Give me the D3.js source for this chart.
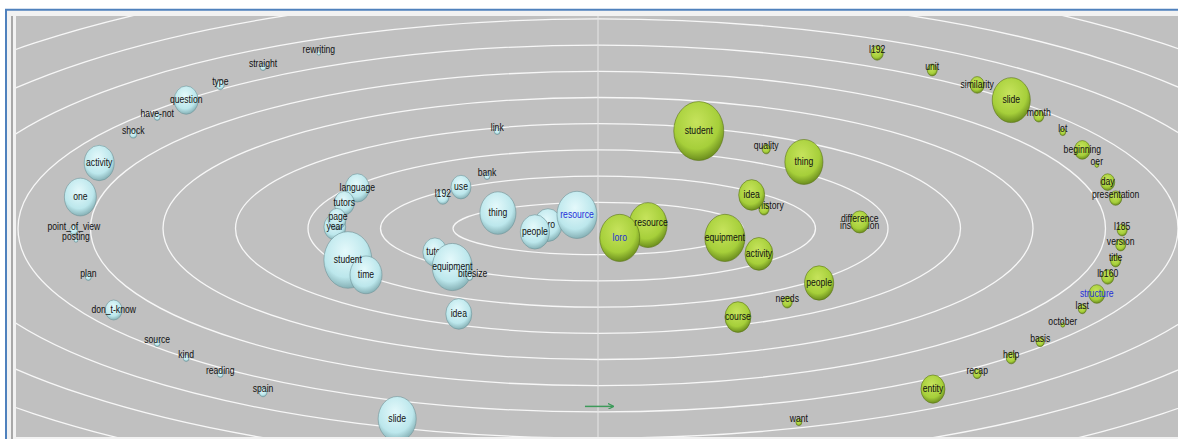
<!DOCTYPE html>
<html>
<head>
<meta charset="utf-8">
<script src="https://cdn.jsdelivr.net/npm/d3@7"></script>
<style>
body { margin: 0; background: #fff; }
text { font-family: "Liberation Sans", Arial, sans-serif; }
</style>
</head>
<body>
<div id="chart-area"></div>
<script>
// left cluster (light blue), drawn in this order (back to front)
var leftTerms  = ["rewriting","straight","type","question","have-not","shock","activity","one","point_of_view","posting","plan","don_t-know","source","kind","reading","spain","link","bank","use","l192","language","tutors","year","page","student","time","tutor","equipment","bitesize","idea","slide","thing","loro","people","resource"];
var leftX      = [-3.85,-4.62,-5.21,-5.68,-6.08,-6.41,-6.88,-7.14,-7.23,-7.20,-7.03,-6.68,-6.08,-5.68,-5.21,-4.62,-1.39,-1.53,-1.89,-2.14,-3.32,-3.50,-3.63,-3.60,-3.45,-3.20,-2.25,-2.01,-1.77,-1.92,-2.77,-1.38,-0.69,-0.87,-0.29];
var leftY      = [6.70,6.16,5.48,4.90,4.26,3.61,2.50,1.20,-0.06,-0.44,-1.85,-3.11,-4.37,-4.94,-5.55,-6.24,3.72,2.00,1.58,1.20,1.55,0.97,0.06,0.36,-1.20,-1.77,-0.90,-1.47,-1.85,-3.26,-7.27,0.59,0.13,-0.13,0.52];
var leftWeight = [0.6,1.4,2.6,23,1.4,2,36,41,2.6,0.6,1.4,11.5,1.4,1.4,1.4,2.6,1.4,1.4,16,6,23,16,19,13,92,41,23,64,1.4,27,58,52,31,34,64];

// right cluster (green)
var rightTerms  = ["l192","unit","similarity","slide","month","lot","beginning","oer","day","presentation","l185","version","title","lb160","structure","last","october","basis","help","recap","entity","want","student","quality","thing","history","idea","instruction","difference","resource","loro","equipment","activity","people","needs","course"];
var rightX      = [3.85,4.61,5.23,5.70,6.08,6.41,6.68,6.88,7.03,7.14,7.23,7.21,7.14,7.03,6.88,6.68,6.41,6.10,5.70,5.23,4.62,2.77,1.39,2.32,2.84,2.29,2.12,3.61,3.61,0.69,0.30,1.75,2.22,3.05,2.61,1.93];
var rightY      = [6.70,6.05,5.48,4.90,4.29,3.68,3.00,2.42,1.77,1.16,-0.06,-0.63,-1.24,-1.85,-2.50,-3.07,-3.68,-4.33,-4.94,-5.55,-6.13,-7.39,3.72,3.03,2.54,0.74,1.28,0.17,0.25,0.13,-0.36,-0.36,-0.97,-2.08,-2.81,-3.38];
var rightWeight = [6,4,8,58,4,1.4,10,0.6,8,6,4,4,4,6,10,2.6,0.6,2.6,4,2.6,23,1.4,100,2.6,58,4,27,2,14,58,64,64,31,34,4,27];

// terms whose label is shown in blue
var leftBlue = ["resource"];
var rightBlue = ["loro", "structure"];
// labels that sit behind later bubbles
var leftHidden = ["tutor", "loro"];
var rightHidden = ["history", "instruction"];

var ringCount = 14;

var width = 1178, height = 439;
var cx = 598, cy = 228.5;

var svg = d3.select("#chart-area")
	.append("svg")
		.attr("width", width)
		.attr("height", height);

var defs = svg.append("defs");

function sphere(id, c0, c1, c2) {
	var g = defs.append("radialGradient")
		.attr("id", id)
		.attr("cx", "45%").attr("cy", "35%").attr("r", "65%");
	g.append("stop").attr("offset", "0%").attr("stop-color", c0);
	g.append("stop").attr("offset", "70%").attr("stop-color", c1);
	g.append("stop").attr("offset", "100%").attr("stop-color", c2);
}
sphere("blueBall", "#e4f9fb", "#bce7ec", "#86b1b6");
sphere("greenBall", "#c6e35c", "#a6cf3a", "#6c8e1e");

defs.append("clipPath").attr("id", "plotClip")
	.append("rect")
		.attr("x", 16).attr("y", 16)
		.attr("width", width - 16).attr("height", 437 - 16);

defs.append("marker")
	.attr("id", "arrow")
	.attr("viewBox", "0 0 10 10")
	.attr("refX", 9).attr("refY", 5)
	.attr("markerWidth", 4).attr("markerHeight", 4)
	.attr("orient", "auto")
	.append("path")
		.attr("d", "M0,0 L10,5 L0,10")
		.attr("fill", "none")
		.attr("stroke", "#3d9a5a")
		.attr("stroke-width", 2);

// window frame
svg.append("rect").attr("x", 5).attr("y", 9).attr("width", width - 5).attr("height", height - 9)
	.attr("fill", "#f2f2f2");
svg.append("line").attr("x1", 5).attr("y1", 9.8).attr("x2", width).attr("y2", 9.8)
	.attr("stroke", "#4f81bd").attr("stroke-width", 2);
svg.append("line").attr("x1", 6).attr("y1", 9).attr("x2", 6).attr("y2", height)
	.attr("stroke", "#4f81bd").attr("stroke-width", 2);
svg.append("line").attr("x1", 12).attr("y1", 16).attr("x2", 12).attr("y2", height)
	.attr("stroke", "#a8a8a8").attr("stroke-width", 2);

var x = d3.scaleLinear().domain([-10, 10]).range([cx - 725, cx + 725]);
var y = d3.scaleLinear().domain([-10, 10]).range([cy + 262, cy - 262]);
var r = d3.scaleSqrt().domain([0, 100]).range([0, 25]);

var plot = svg.append("g").attr("clip-path", "url(#plotClip)");

plot.append("rect")
	.attr("x", 16).attr("y", 16)
	.attr("width", width - 16).attr("height", 437 - 16)
	.attr("fill", "#c0c0c0");

plot.selectAll("ellipse.ring")
	.data(d3.range(1, ringCount + 1))
	.enter()
	.append("ellipse")
		.attr("class", "ring")
		.attr("cx", x(0))
		.attr("cy", y(0))
		.attr("rx", (d) => x(d + 1) - x(0))
		.attr("ry", (d) => y(0) - y(d))
		.attr("fill", "none")
		.attr("stroke", "#f7f7f7")
		.attr("stroke-width", 1.3);

plot.append("line")
	.attr("x1", x(0)).attr("x2", x(0))
	.attr("y1", 16).attr("y2", 437)
	.attr("stroke", "#e6e6e6")
	.attr("stroke-width", 1);

plot.append("line")
	.attr("x1", x(-0.18)).attr("x2", x(0.21))
	.attr("y1", y(-6.79)).attr("y2", y(-6.79))
	.attr("stroke", "#3d9a5a")
	.attr("stroke-width", 1.5)
	.attr("marker-end", "url(#arrow)");

var bubbles = plot.append("g");
var labels = plot.append("g");

// small label nudges
var nudge = { "history": [7, 0], "bitesize": [3, 0], "difference": [0, -3], "instruction": [0, 5], "resource": [3, 0], "page": [1, -2] };

function labelPos(d) {
	var n = nudge[d.term] || [0, 0];
	if (d.term == "resource" && !d.blue) n = [3, -2];
	else if (d.term == "resource") n = [0, 0];
	var lx = x(d.x) + n[0];
	var ly = y(d.y) - (r(d.w) < 7 ? 4 : 1) + n[1];
	return "translate(" + lx + "," + ly + ") scale(0.75,1)";
}

function drawCluster(terms, xs, ys, ws, blue, hidden, fill) {
	var data = terms.map(function(t, i) {
		return { term: t, x: xs[i], y: ys[i], w: ws[i], blue: blue.indexOf(t) >= 0, hidden: hidden.indexOf(t) >= 0 };
	});
	var nodes = bubbles.selectAll(null)
		.data(data)
		.enter()
		.append("g");

	nodes.append("ellipse")
		.attr("cx", (d) => x(d.x))
		.attr("cy", (d) => y(d.y))
		.attr("rx", (d) => r(d.w))
		.attr("ry", (d) => r(d.w) * 1.18)
		.attr("fill", "url(#" + fill + ")")
		.attr("stroke", fill == "blueBall" ? "#6f9498" : "#5a7418")
		.attr("stroke-width", 0.6);

	// occluded labels go with their bubble, the rest on top
	nodes.filter((d) => d.hidden)
		.append("text")
		.attr("transform", labelPos)
		.attr("dy", "0.35em")
		.attr("text-anchor", "middle")
		.attr("font-size", "11.5px")
		.attr("fill", (d) => d.blue ? "#1f2fd8" : "#111")
		.text((d) => d.term);

	labels.selectAll(null)
		.data(data.filter((d) => !d.hidden))
		.enter()
		.append("text")
		.attr("transform", labelPos)
		.attr("dy", "0.35em")
		.attr("text-anchor", "middle")
		.attr("font-size", "11.5px")
		.attr("fill", (d) => d.blue ? "#1f2fd8" : "#111")
		.text((d) => d.term);
}

drawCluster(leftTerms, leftX, leftY, leftWeight, leftBlue, leftHidden, "blueBall");
drawCluster(rightTerms, rightX, rightY, rightWeight, rightBlue, rightHidden, "greenBall");
</script>
</body>
</html>
